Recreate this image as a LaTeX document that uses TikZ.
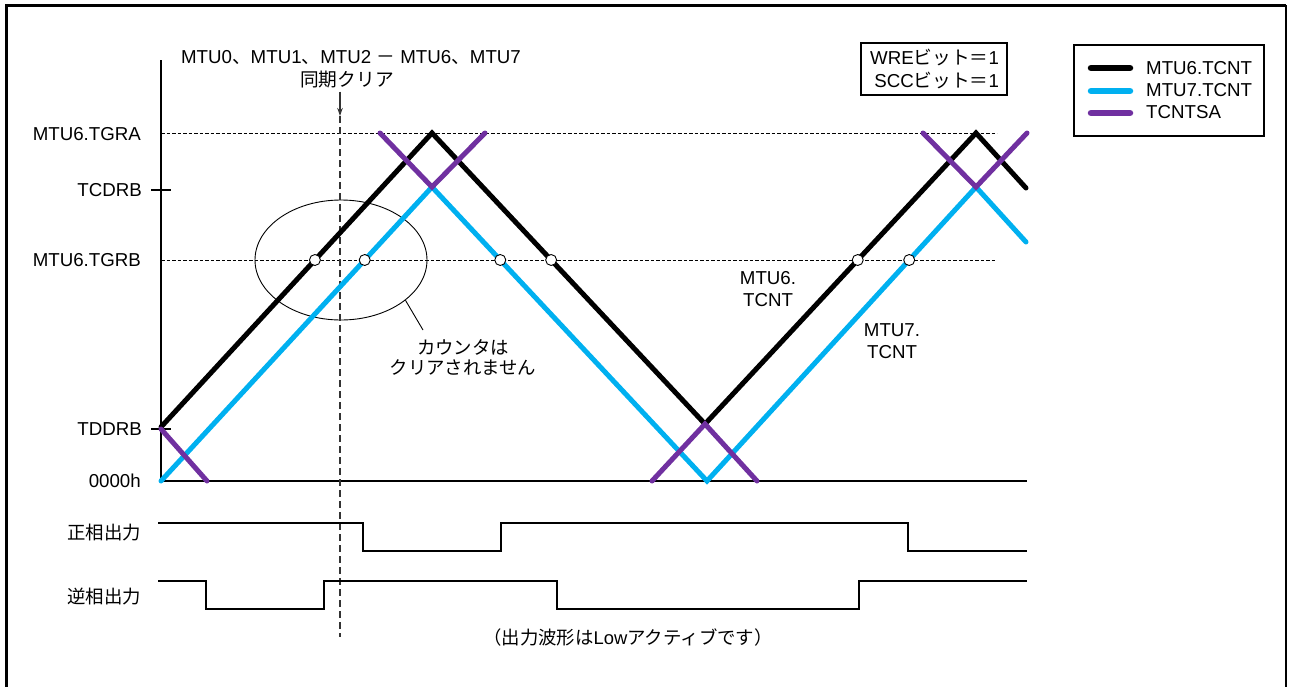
\documentclass[tikz,border=0pt]{standalone}
\usepackage{fontspec}
\setmainfont{Liberation Sans}
\newfontfamily\jp{Noto Sans CJK JP}
\usetikzlibrary{arrows.meta,intersections,shapes.geometric}
\definecolor{cblue}{HTML}{00B0F0}
\definecolor{cpurple}{HTML}{7030A0}
\begin{document}
\begin{tikzpicture}[x=1pt,y=-1pt,
  txt/.style={inner sep=0pt, font=\fontsize{18.7}{22}\selectfont},
  lvl/.style={dash pattern=on 3.5pt off 2pt, line width=0.9pt},
  axisline/.style={line width=1.2pt},
  cnt/.style={line width=5pt, line cap=round, line join=miter},
  blackcnt/.style={cnt, draw=black},
  bluecnt/.style={cnt, draw=cblue},
  purplecnt/.style={cnt, draw=cpurple},
  legline/.style={line width=6.5pt, line cap=round},
  wave/.style={line width=1.8pt, line join=miter},
  dotmark/.style={circle, draw=black, fill=white, line width=0.9pt, minimum size=11pt, inner sep=0pt},
  syncline/.style={line width=1.2pt, draw=black!80}
]
\useasboundingbox (0,0) rectangle (1291,686);

% frame (open at the bottom)
\draw[line width=3pt] (6,690) -- (6,5) -- (1286,5);
\draw[line width=1.5pt] (1286,5) -- (1286,690);

% level labels
\node[txt, anchor=east] (ltgra) at (141,134) {MTU6.TGRA};
\node[txt, anchor=east] (ltcdrb) at (142,190) {TCDRB};
\node[txt, anchor=east] (ltgrb) at (141,260) {MTU6.TGRB};
\node[txt, anchor=east] (ltddrb) at (142,429) {TDDRB};
\node[txt, anchor=east] (lzero) at (141,481) {0000h};

% dashed levels
\draw[lvl] (161,133) -- (997,133);
\draw[lvl, name path=tgrbp] (161,260) -- (995,260);

% ellipse
\node[ellipse, draw, line width=0.9pt, minimum width=172pt, minimum height=120pt, inner sep=0pt] (ell) at (341,260) {};

% axes and ticks
\draw[axisline] (161,60) -- (161,481) -- (1027,481);
\draw[axisline] (151,190) -- (171,190);
\draw[axisline] (151,429) -- (171,429);

% sync clear annotation
\node[txt] (synctxt) at (351,57) {MTU0{\jp 、}MTU1{\jp 、}MTU2 {\jp －} MTU6{\jp 、}MTU7};
\node[txt] (synctxt2) at (347,80) {\jp 同期クリア};
\coordinate (clrtip) at (340,116);
\coordinate (clrbot) at (340,637);
\draw[syncline, -{Stealth[length=8pt,width=5.5pt]}] (clrtip |- synctxt2.south) ++(0,3) -- (clrtip);
\draw[syncline, dash pattern=on 7pt off 4pt] (clrtip) -- (clrbot);

% counters
\draw[blackcnt, name path=blackp] (161,427) -- (432,133) -- (705,424) -- (976,133) -- (1026,188);
\draw[bluecnt, name path=bluep] (161,481) -- (432,187) -- (707,481) -- (976,187) -- (1026,242);
\draw[purplecnt] (161,429) -- (207,481);
\draw[purplecnt] (380,133) -- (432,187) -- (485,133);
\draw[purplecnt] (652,481) -- (705,424) -- (757,481);
\draw[purplecnt] (923,133) -- (976,187) -- (1027,133);

% compare-match points
\path[name intersections={of=blackp and tgrbp, name=bi}];
\path[name intersections={of=bluep and tgrbp, name=ci}];
\node[dotmark] (d1) at (bi-1) {};
\node[dotmark] (d2) at (bi-2) {};
\node[dotmark] (d3) at (bi-3) {};
\node[dotmark] (d4) at (ci-1) {};
\node[dotmark] (d5) at (ci-2) {};
\node[dotmark] (d6) at (ci-3) {};

% note
\node[txt, align=center, font=\fontsize{18.4}{20}\selectfont\jp] (note) at (463,357) {カウンタは\\クリアされません};
\coordinate (ldr) at (423,330);
\draw[line width=0.9pt] (ell.-32) -- (ldr);

% curve labels
\node[txt, align=center] (lab6) at (768,289) {MTU6.\\TCNT};
\node[txt, align=center] (lab7) at (892,341) {MTU7.\\TCNT};

% WRE box
\node[txt, draw, line width=1.2pt, minimum width=146pt, minimum height=52pt, text width=130pt, align=right, font=\fontsize{18.7}{23}\selectfont] (wre) at (934,69) {WRE{\jp ビット＝}1\\SCC{\jp ビット＝}1};

% legend
\node[draw, line width=1.3pt, minimum width=190pt, minimum height=91pt, inner sep=0pt] (legbox) at (1169,90.5) {};
\coordinate (la1) at (1091,68); \coordinate (lb1) at (1130,68);
\coordinate (la2) at (1091,91); \coordinate (lb2) at (1130,91);
\coordinate (la3) at (1091,113); \coordinate (lb3) at (1130,113);
\draw[legline, black] (la1) -- (lb1);
\draw[legline, cblue] (la2) -- (lb2);
\draw[legline, cpurple] (la3) -- (lb3);
\node[txt, anchor=west] (leg1) at (1146,68) {MTU6.TCNT};
\node[txt, anchor=west] (leg2) at (1146,90.5) {MTU7.TCNT};
\node[txt, anchor=west] (leg3) at (1146,112.5) {TCNTSA};

% output waveforms
\node[txt, anchor=east, font=\fontsize{18.4}{22}\selectfont\jp] (pos) at (141,533) {正相出力};
\node[txt, anchor=east, font=\fontsize{18.4}{22}\selectfont\jp] (neg) at (141,597) {逆相出力};
\draw[wave] (158,523) -- (363,523) -- (363,551) -- (501,551) -- (501,523) -- (908,523) -- (908,551) -- (1027,551);
\draw[wave] (158,581) -- (206,581) -- (206,609) -- (324,609) -- (324,581) -- (557,581) -- (557,609) -- (859,609) -- (859,581) -- (1027,581);

\node[txt, font=\fontsize{18.4}{22}\selectfont\jp] (lowact) at (628,637) {（出力波形は{\fontspec{Liberation Sans}Low}アクティブです）};
\end{tikzpicture}
\end{document}
